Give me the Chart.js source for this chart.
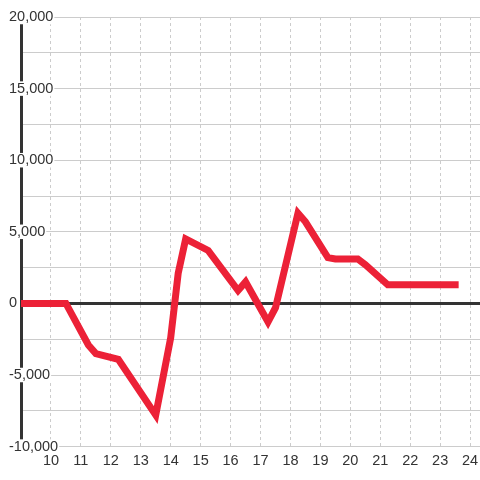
<!DOCTYPE html>
<html>
<head>
<meta charset="utf-8">
<script src="https://cdn.jsdelivr.net/npm/chart.js@4.4.1/dist/chart.umd.min.js"></script>
<style>
  html, body { margin: 0; padding: 0; background: #fff; }
  #wrap { width: 480px; height: 480px; }
</style>
</head>
<body>
<div id="wrap"><canvas id="lineChart"></canvas></div>
<script>
// Series (x in quarter steps)
const xValues = [9, 10.5, 11.25, 11.5, 12.25, 13.5, 14, 14.25, 14.5, 15.25, 16.25, 16.5,
    17.25, 17.5, 18.25, 18.5, 19.25, 19.5, 20.25, 20.5, 21.25, 23.5];
const yValues = [0, 0, -2900, -3500, -3900, -7800, -2400, 2100, 4500, 3700, 900, 1500,
    -1300, -300, 6300, 5700, 3200, 3100, 3100, 2700, 1300, 1300];

// Axis ranges and ticks
const xRange = [9, 24.33];
const yRange = [-10000, 20000];
const yStep = 2500;
const yLabelStep = 5000;

const textColor = '#333';
const gridColor = '#cccccc';

const ctx = document.getElementById('lineChart').getContext('2d');

new Chart(ctx, {
    type: 'line',
    data: {
        datasets: [{
            data: xValues.map((x, i) => ({ x: x, y: yValues[i] })),
            borderColor: '#ec2137',
            borderWidth: 7,
            borderCapStyle: 'square',
            borderJoinStyle: 'miter',
            pointRadius: 0,
            tension: 0,
            fill: false
        }]
    },
    options: {
        responsive: true,
        maintainAspectRatio: false,
        animation: false,
        layout: {
            padding: { left: 21, top: 17, right: 0, bottom: 4 }
        },
        scales: {
            x: {
                type: 'linear',
                min: xRange[0],
                max: xRange[1],
                afterFit: (scale) => { scale.paddingLeft = 0; scale.paddingRight = 0; },
                border: { display: false, dash: [3, 3] },
                grid: {
                    drawTicks: false,
                    color: (c) => c.tick && c.tick.value === xRange[0] ? 'rgba(0,0,0,0)' : gridColor,
                    lineWidth: 1
                },
                ticks: {
                    stepSize: 1,
                    includeBounds: false,
                    autoSkip: false,
                    maxRotation: 0,
                    padding: 6,
                    color: textColor,
                    font: { family: 'Liberation Sans, Arial, sans-serif', size: 14.5 },
                    callback: (v) => v === xRange[0] ? '' : v
                }
            },
            y: {
                type: 'linear',
                min: yRange[0],
                max: yRange[1],
                afterFit: (scale) => { scale.width = 0; },
                border: { display: true, color: textColor, width: 3 },
                grid: {
                    drawTicks: false,
                    color: (c) => c.tick && c.tick.value === 0 ? textColor : gridColor,
                    lineWidth: (c) => c.tick && c.tick.value === 0 ? 3 : 1
                },
                ticks: {
                    stepSize: yStep,
                    mirror: true,
                    crossAlign: 'near',
                    padding: -12,
                    color: textColor,
                    font: { family: 'Liberation Sans, Arial, sans-serif', size: 14.5, lineHeight: 1 },
                    showLabelBackdrop: true,
                    backdropColor: (c) => c.tick && c.tick.value % yLabelStep === 0 ? '#fff' : 'rgba(0,0,0,0)',
                    backdropPadding: { top: 0, bottom: 0, left: 1, right: 1 },
                    callback: (v) => v % yLabelStep === 0 ? v.toLocaleString('en-US') : ''
                }
            }
        },
        plugins: {
            legend: { display: false },
            tooltip: { enabled: false }
        }
    }
});
</script>
</body>
</html>
